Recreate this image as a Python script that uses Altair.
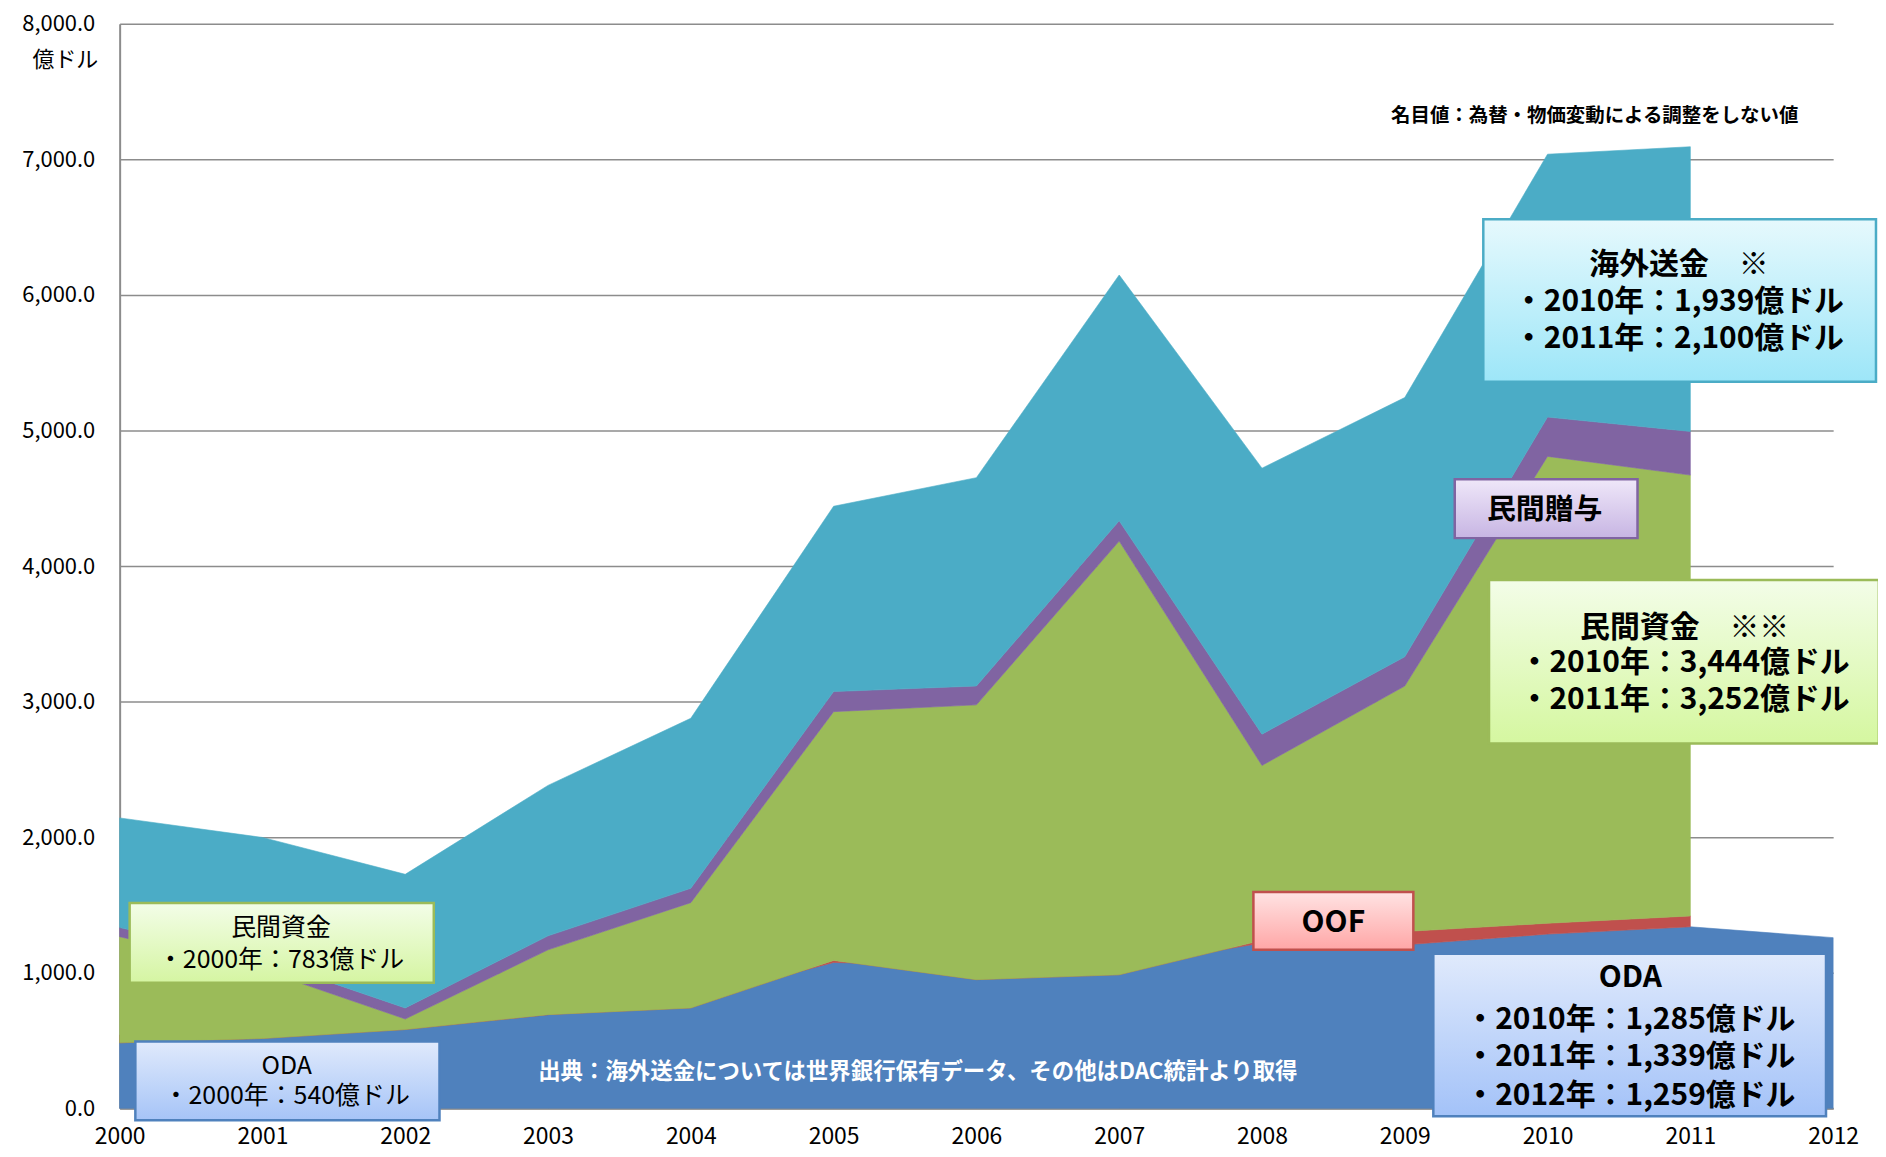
import altair as alt
import pandas as pd

# ---------------- data (億ドル) ----------------
years = list(range(2000, 2013))
series_names = ["ODA", "OOF", "民間資金", "民間贈与", "海外送金"]
oda = [540, 524, 583, 691, 794, 1076, 1048, 1042, 1219, 1206, 1285, 1339, 1259]
oof = [-57, -9, -2, 0, -54, 15, -99, -57, 20, 98, 80, 80, None]
private_funds = [783, 505, 78, 478, 777, 1835, 2027, 3199, 1290, 1811, 3444, 3252, None]
private_grants = [67, 80, 81, 103, 106, 148, 139, 150, 231, 216, 290, 322, None]
remittances = [809, 898, 986, 1110, 1254, 1367, 1537, 1813, 1962, 1912, 1939, 2100, None]
y_ticks = [0, 1000, 2000, 3000, 4000, 5000, 6000, 7000, 8000]

series_colors = ["#4F81BD", "#C0504D", "#9BBB59", "#8064A2", "#4BACC6"]

rows = []
for order, (name, vals) in enumerate(zip(series_names, [oda, oof, private_funds, private_grants, remittances])):
    for yr, v in zip(years, vals):
        if v is not None:
            rows.append({"year": yr, "series": name, "order": order, "value": v})
df = pd.DataFrame(rows)

FONT = "Noto Sans CJK JP"
xscale = alt.Scale(domain=[2000, 2012], nice=False, zero=False)
yscale = alt.Scale(domain=[0, 8000], nice=False, zero=True)

x_axis = alt.Axis(values=years, format="d", title=None, labelFontSize=23, labelFont=FONT,
                  labelColor="#000000", labelPadding=17, ticks=False, tickSize=0,
                  domainColor="#8c8c8c", domainWidth=2, grid=False, labelFlush=False)
y_axis = alt.Axis(values=y_ticks, format=",.1f", title="億ドル", titleAngle=0, titleAlign="right",
                  titleBaseline="middle", titleX=-22, titleY=36, titleFontSize=22,
                  titleFont=FONT, titleFontWeight="normal", titleColor="#000000",
                  labelFontSize=22, labelFont=FONT, labelColor="#000000", labelPadding=25,
                  ticks=False, tickSize=0, domainColor="#8c8c8c", domainWidth=2,
                  grid=True, gridColor="#8c8c8c", gridWidth=1.5, labelFlush=False)

base = alt.Chart(df).transform_window(
    hi="sum(value)", groupby=["year"], sort=[alt.SortField("order")], frame=[None, 0]
).transform_calculate(lo="datum.hi - datum.value")

layers = []
for i, (name, col) in enumerate(zip(series_names, series_colors)):
    layers.append(
        base.transform_filter(alt.datum.series == name)
        .mark_area(color=col, stroke=col, strokeWidth=0.6, opacity=1, interpolate="linear")
        .encode(
            x=alt.X("year:Q", scale=xscale, axis=x_axis),
            y=alt.Y("hi:Q", scale=yscale, axis=y_axis),
            y2="lo:Q",
        )
    )

# ---------------- annotation boxes (data coordinates) ----------------
boxes = [
    # x1, x2, y1, y2, top colour, bottom colour, border
    (2000.07, 2002.20, 926, 1515, "#f3fde8", "#d5f5a2", "#9BBB59"),
    (2000.11, 2002.24, -88, 493, "#e0eafc", "#a6c4f7", "#4F81BD"),
    (2009.55, 2012.30, 5360, 6559, "#e6f9fd", "#9de6f8", "#4BACC6"),
    (2009.35, 2010.63, 4206, 4640, "#efe7f9", "#c7b5e3", "#8064A2"),
    (2009.59, 2012.32, 2691, 3897, "#f3fde8", "#d5f7a0", "#9BBB59"),
    (2007.94, 2009.06, 1169, 1596, "#ffe3e3", "#ffa6a6", "#C0504D"),
    (2009.20, 2011.95, -59, 1140, "#e0eafc", "#a3c2f8", "#4F81BD"),
]
for bx1, bx2, by1, by2, c_top, c_bot, c_border in boxes:
    grad = alt.LinearGradient(
        gradient="linear",
        stops=[alt.GradientStop(color=c_top, offset=0), alt.GradientStop(color=c_bot, offset=1)],
        x1=0, x2=0, y1=0, y2=1,
    )
    layers.append(
        alt.Chart(pd.DataFrame([{"x": bx1, "x2": bx2, "y": by1, "y2": by2}]))
        .mark_rect(fill=grad, stroke=c_border, strokeWidth=2.5)
        .encode(
            x=alt.X("x:Q", scale=xscale, axis=x_axis), x2="x2:Q",
            y=alt.Y("y:Q", scale=yscale, axis=y_axis), y2="y2:Q",
        )
    )

# ---------------- annotation texts ----------------
normal_texts = [
    (2001.13, 1331, "民間資金", 25, "#000000"),
    (2001.13, 1096, "・2000年：783億ドル", 25, "#000000"),
    (2001.17, 309, "ODA", 25, "#000000"),
    (2001.17, 88, "・2000年：540億ドル", 25, "#000000"),
]
bold_texts = [
    (2005.59, 265, "出典：海外送金については世界銀行保有データ、その他はDAC統計より取得", 22.5, "#ffffff"),
    (2010.33, 7316, "名目値：為替・物価変動による調整をしない値", 19.5, "#000000"),
    (2010.92, 6221, "海外送金　※", 30, "#000000"),
    (2010.92, 5949, "・2010年：1,939億ドル", 30, "#000000"),
    (2010.92, 5676, "・2011年：2,100億ドル", 30, "#000000"),
    (2009.98, 4412, "民間贈与", 29, "#000000"),
    (2010.96, 3544, "民間資金　※※", 30, "#000000"),
    (2010.96, 3287, "・2010年：3,444億ドル", 30, "#000000"),
    (2010.96, 3015, "・2011年：3,252億ドル", 30, "#000000"),
    (2008.50, 1368, "OOF", 30, "#000000"),
    (2010.58, 963, "ODA", 30, "#000000"),
    (2010.58, 654, "・2010年：1,285億ドル", 30, "#000000"),
    (2010.58, 375, "・2011年：1,339億ドル", 30, "#000000"),
    (2010.58, 88, "・2012年：1,259億ドル", 30, "#000000"),
]
for texts, weight in [(normal_texts, "normal"), (bold_texts, "bold")]:
    tdf = pd.DataFrame(texts, columns=["x", "y", "text", "size", "color"])
    layers.append(
        alt.Chart(tdf)
        .mark_text(font=FONT, fontWeight=weight, align="center", baseline="middle")
        .encode(
            x=alt.X("x:Q", scale=xscale, axis=x_axis),
            y=alt.Y("y:Q", scale=yscale, axis=y_axis),
            text="text:N",
            size=alt.Size("size:Q", scale=None, legend=None),
            color=alt.Color("color:N", scale=None, legend=None),
        )
    )

chart = (
    alt.layer(*layers)
    .properties(
        width=1719, height=1088,
        autosize=alt.AutoSizeParams(type="none"),
        padding={"left": 112, "top": 14, "right": 45, "bottom": 45},
        background="white",
    )
    .configure_view(strokeWidth=0)
)

chart.save("out.html", embed_options={"renderer": "svg", "actions": False})
